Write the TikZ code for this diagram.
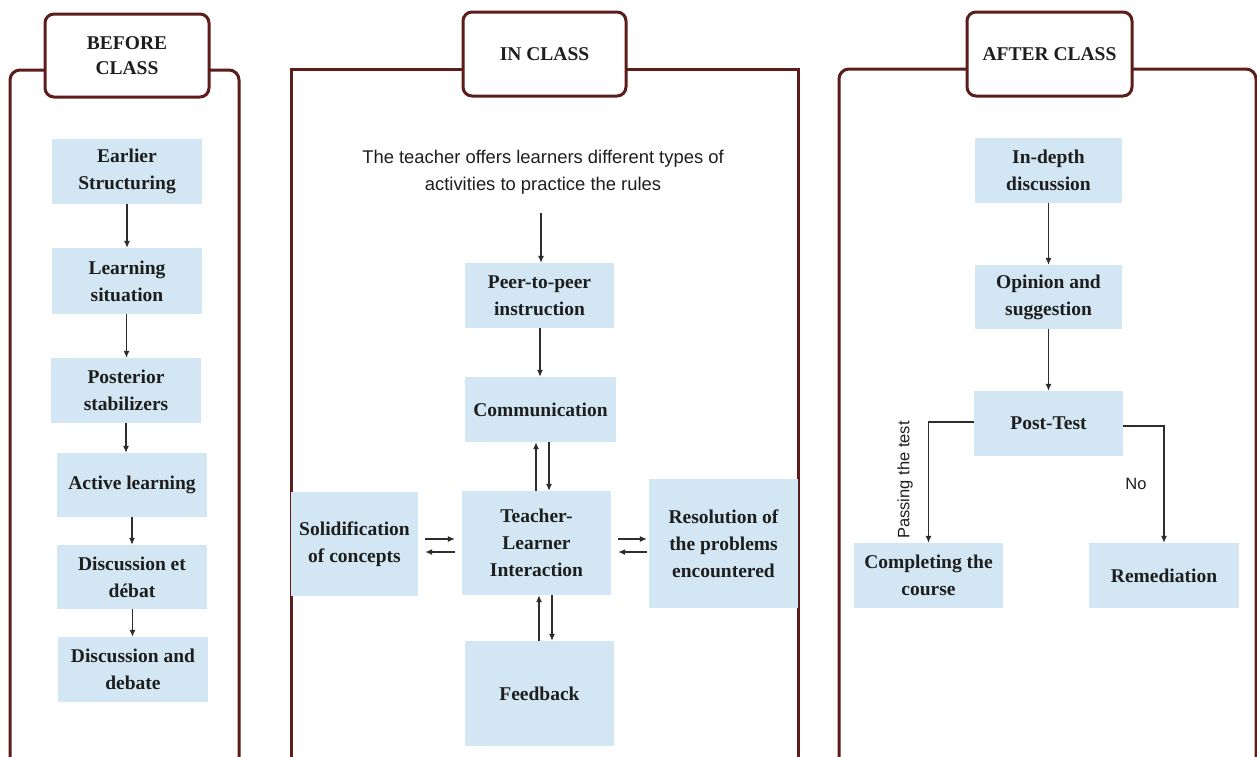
\documentclass[tikz,border=0pt]{standalone}
\usepackage{fontspec}
\setmainfont{Liberation Serif}
\setsansfont{Liberation Sans}
\usetikzlibrary{arrows.meta,calc}
\definecolor{framec}{RGB}{92,30,27}
\definecolor{boxfill}{RGB}{210,231,243}
\definecolor{txt}{RGB}{30,30,30}
\definecolor{arrc}{RGB}{45,45,45}
\tikzset{
  frame/.style={draw=framec, line width=3pt},
  titlebox/.style={draw=framec, line width=3pt, fill=white, rounded corners=9pt, align=center,
    text=txt, font=\fontsize{19.5}{25}\selectfont\bfseries, inner sep=0pt},
  stepbox/.style={fill=boxfill, align=center, text=txt, inner sep=0pt,
    font=\fontsize{19.5}{27}\selectfont\bfseries},
  arr/.style={draw=arrc, line width=1.1pt, -{Latex[length=7pt,width=6pt]}},
  lbl/.style={text=txt, font=\sffamily\fontsize{16.5}{18}\selectfont, inner sep=0pt}
}
\begin{document}
\begin{tikzpicture}[x=1pt,y=-1pt]
\useasboundingbox (0,0) rectangle (1257,756);
\clip (0,0) rectangle (1257,756);
\fill[white] (0,0) rectangle (1257,756);

% frames
\draw[frame, rounded corners=10pt] (10,800) -- (10,70) -- (239,70) -- (239,800);
\draw[frame] (291,800) -- (291,69) -- (798,69) -- (798,800);
\draw[frame, rounded corners=10pt] (839,800) -- (839,69) -- (1256,69) -- (1256,800);

% titles
\node[titlebox, minimum width=164, minimum height=83] (tbefore) at (127,55.5) {BEFORE\\CLASS};
\node[titlebox, minimum width=163, minimum height=84] (tin) at (544.5,54) {IN CLASS};
\node[titlebox, minimum width=165, minimum height=84] (tafter) at (1049.5,54) {AFTER CLASS};

% before class
\node[stepbox, minimum width=150, minimum height=65] (es) at (127,171.5) {Earlier\\Structuring};
\node[stepbox, minimum width=150, minimum height=66] (ls) at (127,281) {Learning\\situation};
\node[stepbox, minimum width=150, minimum height=65] (ps) at (126,390.5) {Posterior\\stabilizers};
\node[stepbox, minimum width=150, minimum height=64] (al) at (132,485) {Active learning};
\node[stepbox, minimum width=150, minimum height=64] (de) at (132,577) {Discussion et\\débat};
\node[stepbox, minimum width=150, minimum height=65] (dd) at (133,669.5) {Discussion and\\debate};

\draw[arr] (es.south) -- (ls.north);
\draw[arr] ([xshift=-0.5pt]ls.south) -- ([xshift=-0.5pt]ls.south |- ps.north);
\draw[arr] (ps.south) -- (ps.south |- al.north);
\draw[arr] (al.south) -- (de.north);
\draw[arr] ([xshift=0.5pt]de.south) -- ([xshift=0.5pt]de.south |- dd.north);

% in class
\node[text=txt, align=center, inner sep=0pt, font=\sffamily\fontsize{18.4}{27}\selectfont] (intro) at (543,172)
  {The teacher offers learners different types of\\activities to practice the rules};
\coordinate (istart) at (541,213);
\node[stepbox, minimum width=149, minimum height=65] (peer) at (539.5,295.5) {Peer-to-peer\\instruction};
\node[stepbox, minimum width=151, minimum height=65] (comm) at (540.5,409.5) {Communication};
\node[stepbox, minimum width=149, minimum height=104] (tli) at (536.5,543) {Teacher-\\Learner\\Interaction};
\node[stepbox, minimum width=127, minimum height=104] (sol) at (354.5,544) {Solidification\\of concepts};
\node[stepbox, minimum width=149, minimum height=129] (res) at (723.5,543.5) {Resolution of\\the problems\\encountered};
\node[stepbox, minimum width=149, minimum height=105] (fb) at (539.5,693.5) {Feedback};

\draw[arr] (istart) -- (istart |- peer.north);
\draw[arr] ([xshift=0.5pt]peer.south) -- ([xshift=0.5pt]peer.south |- comm.north);
\draw[arr] ([xshift=-0.5pt]tli.north) -- ([xshift=-0.5pt]tli.north |- comm.south);
\draw[arr] ([xshift=12.5pt]tli.north |- comm.south) -- ([xshift=12.5pt]tli.north);
\draw[arr] ([xshift=-0.5pt]fb.north) -- ([xshift=-0.5pt]fb.north |- tli.south);
\draw[arr] ([xshift=12.5pt]fb.north |- tli.south) -- ([xshift=12.5pt]fb.north);
\draw[arr, shorten <=7pt, shorten >=7pt] ([yshift=4pt]tli.west -| sol.east) -- ([yshift=4pt]tli.west);
\draw[arr, shorten <=7pt, shorten >=7pt] ([yshift=-9pt]tli.west) -- ([yshift=-9pt]tli.west -| sol.east);
\draw[arr, shorten <=7pt, shorten >=2pt] ([yshift=4pt]tli.east) -- ([yshift=4pt]tli.east -| res.west);
\draw[arr, shorten <=2pt, shorten >=7pt] ([yshift=-9pt]tli.east -| res.west) -- ([yshift=-9pt]tli.east);

% after class
\node[stepbox, minimum width=147, minimum height=65] (ind) at (1048.5,170.5) {In-depth\\discussion};
\node[stepbox, minimum width=147, minimum height=64] (op) at (1048.5,297) {Opinion and\\suggestion};
\node[stepbox, minimum width=149, minimum height=65] (pt) at (1048.5,423.5) {Post-Test};
\node[stepbox, minimum width=149, minimum height=65] (cc) at (928.5,575.5) {Completing the\\course};
\node[stepbox, minimum width=150, minimum height=65] (rem) at (1164,575.5) {Remediation};

\draw[arr] (ind.south) -- (op.north);
\draw[arr] (op.south) -- (pt.north);
\draw[arr] ([yshift=1.5pt]pt.west) -| (cc.north);
\draw[arr] ([yshift=-2.5pt]pt.east) -| (rem.north);
\node[lbl, rotate=90] (lpass) at (905,480) {Passing the test};
\node[lbl] (lno) at (1136,484) {No};
\end{tikzpicture}
\end{document}
